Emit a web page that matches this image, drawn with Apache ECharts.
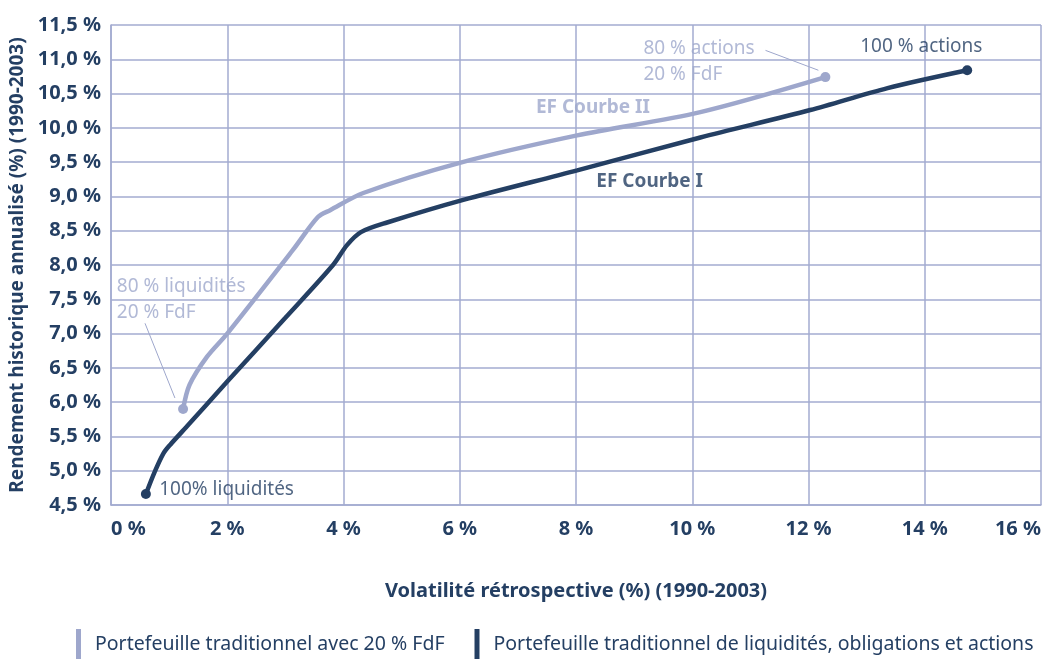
<!DOCTYPE html>
<html>
<head>
<meta charset="utf-8">
<script src="https://cdn.jsdelivr.net/npm/echarts@6/dist/echarts.min.js"></script>
<style>
  html, body { margin: 0; padding: 0; background: #fff; }
  #chart { width: 1055px; height: 659px; }
</style>
</head>
<body>
<div id="chart"></div>
<script>
// volatility (%) / return (%)
const courbeI = [
  [0.60, 4.66], [0.75, 4.98], [0.9, 5.25], [1.02, 5.38], [1.3, 5.64],
  [2.0, 6.30], [3.0, 7.23], [3.82, 8.0], [4.06, 8.29], [4.3, 8.48],
  [4.75, 8.62], [6.06, 8.95], [8.02, 9.38], [10.14, 9.86], [12.03, 10.26],
  [13.36, 10.58], [14.73, 10.84]
]
const courbeII = [
  [1.24, 5.90], [1.35, 6.25], [1.65, 6.66], [2.0, 7.0], [3.13, 8.22],
  [3.56, 8.70], [3.77, 8.80], [4.34, 9.05], [6.0, 9.49], [8.02, 9.89],
  [10.14, 10.23], [12.29, 10.74]
]
const xTicks = [0, 2, 4, 6, 8, 10, 12, 14, 16]
const legendNames = [
  'Portefeuille traditionnel avec 20 % FdF',
  'Portefeuille traditionnel de liquidités, obligations et actions'
]
// annotation anchors (text left edge) in data units
const notesLight = [
  { text: '80 % actions\n20 % FdF', at: [9.16, 10.97] },
  { text: 'EF Courbe II', at: [7.31, 10.29], bold: true },
  { text: '80 % liquidités\n20 % FdF', at: [0.10, 7.49] }
]
const notesDark = [
  { text: '100 % actions', at: [12.89, 11.18] },
  { text: 'EF Courbe I', at: [8.35, 9.22], bold: true },
  { text: '100% liquidités', at: [0.83, 4.72] }
]
const leadersLight = [
  [[11.26, 11.13], [12.17, 10.84]],
  [[0.585, 7.15], [1.10, 6.06]]
]

const DARK = '#243f63'
const LIGHT = '#9ea7cc'
const GRID = '#a3abd0'
const FONT = '"Noto Sans", sans-serif'

const chart = echarts.init(document.getElementById('chart'))

function endSymbol(data) {
  return (val, params) => (params.dataIndex === 0 || params.dataIndex === data.length - 1) ? 10 : 0
}

function noteSeries(notes, color) {
  return {
    type: 'scatter',
    symbolSize: 0,
    silent: true,
    data: notes.map((n) => ({
      value: n.at,
      label: {
        show: true,
        position: 'right',
        distance: 0,
        formatter: n.text,
        color: color,
        fontSize: 19,
        lineHeight: 26,
        fontWeight: n.bold ? 'bold' : 'normal',
        fontFamily: FONT
      }
    }))
  }
}

chart.setOption({
  animation: false,
  textStyle: { fontFamily: FONT },
  grid: { left: 111, right: 14, top: 25, bottom: 154, outerBoundsMode: 'none' },
  legend: {
    bottom: 0,
    padding: 0,
    left: 76,
    icon: 'rect',
    itemWidth: 5,
    itemHeight: 30,
    itemGap: 30,
    textStyle: { color: DARK, fontSize: 19.5, fontFamily: FONT, padding: [0, 0, 0, 9] },
    data: [
      { name: legendNames[0], itemStyle: { color: LIGHT } },
      { name: legendNames[1], itemStyle: { color: DARK } }
    ]
  },
  xAxis: {
    type: 'value',
    min: 0,
    max: 16,
    interval: 2,
    name: 'Volatilité rétrospective (%) (1990-2003)',
    nameLocation: 'middle',
    nameGap: 76,
    nameTextStyle: { color: DARK, fontSize: 20, fontWeight: 'bold' },
    axisLine: { lineStyle: { color: GRID, width: 1.5 } },
    axisTick: { show: false },
    axisLabel: {
      color: DARK, fontSize: 20, fontWeight: 'bold', margin: 14,
      alignMinLabel: 'left', alignMaxLabel: 'right',
      formatter: (v) => xTicks.includes(v) ? v + ' %' : ''
    },
    splitLine: { lineStyle: { color: GRID, width: 1.5 } }
  },
  yAxis: {
    type: 'value',
    min: 4.5,
    max: 11.5,
    interval: 0.5,
    name: 'Rendement historique annualisé (%) (1990-2003)',
    nameLocation: 'middle',
    nameGap: 78,
    nameTextStyle: { color: DARK, fontSize: 19, fontWeight: 'bold' },
    axisLine: { show: true, lineStyle: { color: GRID, width: 1.5 } },
    axisTick: { show: false },
    axisLabel: {
      color: DARK, fontSize: 20, fontWeight: 'bold', margin: 10,
      formatter: (v) => v.toFixed(1).replace('.', ',') + ' %'
    },
    splitLine: { lineStyle: { color: GRID, width: 1.5 } }
  },
  series: [
    {
      name: legendNames[0],
      type: 'line',
      data: courbeII,
      smooth: 0.3,
      symbol: 'circle',
      symbolSize: endSymbol(courbeII),
      lineStyle: { color: LIGHT, width: 4.5 },
      itemStyle: { color: LIGHT },
      markLine: {
        silent: true,
        symbol: 'none',
        lineStyle: { color: LIGHT, width: 1, type: 'solid' },
        label: { show: false },
        data: leadersLight.map((l) => [{ coord: l[0] }, { coord: l[1] }])
      }
    },
    {
      name: legendNames[1],
      type: 'line',
      data: courbeI,
      smooth: 0.3,
      symbol: 'circle',
      symbolSize: endSymbol(courbeI),
      lineStyle: { color: DARK, width: 4.5 },
      itemStyle: { color: DARK }
    },
    noteSeries(notesLight, LIGHT),
    noteSeries(notesDark, DARK)
  ]
})
</script>
</body>
</html>
